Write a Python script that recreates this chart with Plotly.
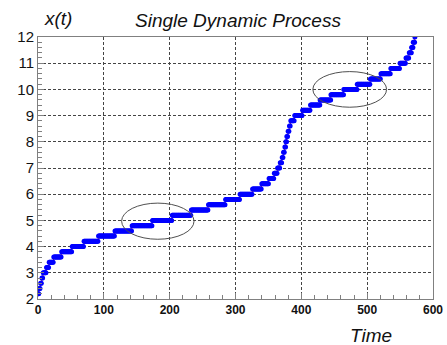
import numpy as np
import plotly.graph_objects as go

# Staircase levels of x(t) and the time at which each level starts
levels = [2.2, 2.4, 2.6, 2.8, 3.0, 3.2, 3.4, 3.6, 3.8, 4.0,
          4.2, 4.4, 4.6, 4.8, 5.0, 5.2, 5.4, 5.6, 5.8, 6.0,
          6.2, 6.4, 6.6, 6.8, 7.0, 7.2, 7.4, 7.6, 7.8, 8.0,
          8.2, 8.4, 8.6, 8.8, 9.0, 9.2, 9.4, 9.6, 9.8, 10.0,
          10.2, 10.4, 10.6, 10.8, 11.0, 11.2, 11.4, 11.6, 11.8, 12.0]
step_start = [0, 2, 4, 6, 8, 13, 17, 24, 36, 52,
              70, 92, 117, 143, 174, 204, 233, 259, 285, 307,
              326, 340, 351, 359, 364, 368, 371, 373, 375, 376.5,
              378, 380, 382, 384, 390, 402, 414, 428.5, 445, 464.5,
              485, 505, 521, 536, 550, 559, 564, 567.5, 570, 572.5]
t_end = 573.5
sample_dt = 1.0

# highlighted regions (ellipses): centre time, centre value, half-width, half-height
ell_t = [182, 473.5]
ell_x = [4.97, 10.0]
ell_w = [55, 56]
ell_h = [0.69, 0.68]

x_ticks = [0, 100, 200, 300, 400, 500, 600]
y_ticks = [2, 3, 4, 5, 6, 7, 8, 9, 10, 11, 12]

# build the sampled series from the staircase
ts, xs = [], []
bounds = step_start + [t_end]
for k, lv in enumerate(levels):
    tt = np.arange(bounds[k], bounds[k + 1], sample_dt)
    ts.extend(tt.tolist())
    xs.extend([lv] * len(tt))

fig = go.Figure()
fig.add_trace(go.Scatter(
    x=ts, y=xs, mode="lines+markers",
    line=dict(color="#ff2020", width=1),
    marker=dict(color="#0000ff", size=5, line=dict(width=0)),
    showlegend=False, cliponaxis=True))

for ct, cx, w, h in zip(ell_t, ell_x, ell_w, ell_h):
    fig.add_shape(type="circle", xref="x", yref="y",
                  x0=ct - w, x1=ct + w, y0=cx - h, y1=cx + h,
                  line=dict(color="#505050", width=1))

grid_kw = dict(showgrid=True, gridcolor="#444444", gridwidth=1, griddash="3px,2px",
               showline=True, linecolor="#808080", linewidth=1, mirror=True,
               ticks="inside", tickcolor="#808080", zeroline=False, automargin=False)

fig.update_xaxes(range=[0, 600], tickvals=x_ticks, ticklen=6,
                 tickfont=dict(family="Arial, Liberation Sans", size=12, color="#111111", weight="bold"),
                 minor=dict(dtick=20, tick0=0, ticks="inside", ticklen=4, tickcolor="#808080", showgrid=False),
                 **grid_kw)
fig.update_yaxes(range=[2, 12], tickvals=y_ticks, ticklen=6,
                 tickfont=dict(family="Arial, Liberation Sans", size=15, color="#111111"),
                 minor=dict(dtick=0.2, tick0=2, ticks="inside", ticklen=4, tickcolor="#808080", showgrid=False),
                 **grid_kw)

fig.add_annotation(text="Single Dynamic Process", xref="paper", yref="paper",
                   x=0.506, y=1.062, xanchor="center", yanchor="middle", showarrow=False,
                   font=dict(family="Arial, Liberation Sans", size=19, color="#111111", style="italic"))
fig.add_annotation(text="x(t)", xref="paper", yref="paper",
                   x=0.051, y=1.07, xanchor="center", yanchor="middle", showarrow=False,
                   font=dict(family="Arial, Liberation Sans", size=19, color="#111111", style="italic"))
fig.add_annotation(text="Time", xref="paper", yref="paper",
                   x=0.843, y=-0.141, xanchor="center", yanchor="middle", showarrow=False,
                   font=dict(family="Arial, Liberation Sans", size=19, color="#111111", style="italic"))

fig.update_layout(width=447, height=345, margin=dict(l=38, r=14, t=37, b=46, autoexpand=False),
                  plot_bgcolor="white", paper_bgcolor="white")

fig.write_html("out.html")
